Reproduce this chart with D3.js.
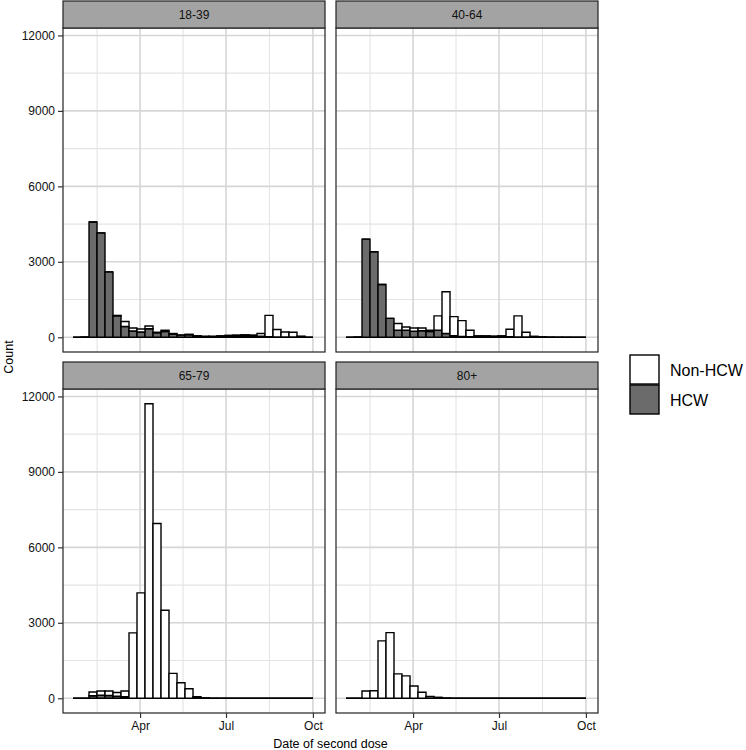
<!DOCTYPE html>
<html><head><meta charset="utf-8">
<script src="https://cdn.jsdelivr.net/npm/d3@7"></script>
<style>body{margin:0;background:#fff}svg{display:block}</style></head>
<body><svg id="c" width="746" height="750"></svg>
<script>
// ---- data ----
const panels = ["18-39", "40-64", "65-79", "80+"];
const groups = ["Non-HCW", "HCW"];
const binStart = "2021-01-20";   // first bin edge
const binDays = 8.47;            // bin width in days (30 bins)
const xTickLabels = ["Apr", "Jul", "Oct"];
const xTickDates = ["2021-04-01", "2021-07-01", "2021-10-01"];
const yTicks = [0, 3000, 6000, 9000, 12000];

const hcw_18_39 = [0, 10, 4580, 4150, 2600, 850, 430, 250, 210, 340, 180, 230, 130, 80, 100, 50, 30, 30, 40, 50, 60, 60, 50, 40, 20, 10, 10, 10, 5, 0];
const non_18_39 = [0, 0, 0, 0, 0, 20, 200, 120, 120, 110, 20, 50, 20, 10, 20, 10, 10, 10, 20, 30, 30, 40, 40, 110, 850, 300, 200, 190, 40, 0];
const hcw_40_64 = [0, 10, 3900, 3400, 2100, 750, 280, 280, 240, 260, 230, 280, 150, 60, 30, 20, 20, 20, 20, 20, 20, 10, 10, 10, 0, 0, 0, 0, 0, 0];
const non_40_64 = [0, 0, 0, 0, 0, 0, 270, 130, 130, 110, 50, 570, 1660, 760, 630, 260, 40, 40, 30, 40, 300, 840, 190, 30, 20, 10, 5, 5, 0, 0];
const hcw_65_79 = [0, 0, 100, 120, 110, 80, 60, 0, 0, 0, 0, 0, 0, 0, 0, 0, 0, 0, 0, 0, 0, 0, 0, 0, 0, 0, 0, 0, 0, 0];
const non_65_79 = [0, 0, 150, 170, 180, 150, 230, 2600, 4190, 11710, 6950, 3500, 990, 620, 380, 60, 20, 5, 0, 0, 0, 0, 0, 0, 0, 0, 0, 0, 0, 0];
const hcw_80 = [0, 0, 0, 0, 0, 0, 0, 0, 0, 0, 0, 0, 0, 0, 0, 0, 0, 0, 0, 0, 0, 0, 0, 0, 0, 0, 0, 0, 0, 0];
const non_80 = [0, 0, 290, 300, 2280, 2610, 970, 890, 490, 240, 70, 40, 15, 5, 0, 0, 0, 0, 0, 0, 0, 0, 0, 0, 0, 0, 0, 0, 0, 0];

const series = {
  "18-39": {"HCW": hcw_18_39, "Non-HCW": non_18_39},
  "40-64": {"HCW": hcw_40_64, "Non-HCW": non_40_64},
  "65-79": {"HCW": hcw_65_79, "Non-HCW": non_65_79},
  "80+":   {"HCW": hcw_80,    "Non-HCW": non_80}
};

// ---- layout ----
const svg = d3.select("#c");
const font = "'Liberation Sans', Arial, sans-serif";
const fills = {"Non-HCW": "#ffffff", "HCW": "#6b6b6b"};
const panelW = 262, panelH = 324, stripH = 27;
const colX = [63, 336];
const rowY = [28, 389];

const parse = d3.utcParse("%Y-%m-%d");
const day = 864e5;
const b0 = parse(binStart);
const nBins = hcw_18_39.length;
const edges = d3.range(nBins + 1).map(i => new Date(+b0 + i * binDays * day));
const xDomain = [new Date(+edges[0] - 10.6 * day), new Date(+edges[nBins] + 12.7 * day)];

let ymax = 0;
panels.forEach(p => {
  for (let i = 0; i < nBins; i++) ymax = Math.max(ymax, series[p]["HCW"][i] + series[p]["Non-HCW"][i]);
});
const yDomain = [-0.05 * ymax, 1.05 * ymax];

const majorX = xTickDates.map(parse);
const minorX = [];
for (let i = 0; i < majorX.length; i++) {
  const prev = i === 0 ? new Date(+majorX[0] - ((+majorX[1]) - (+majorX[0]))) : majorX[i - 1];
  minorX.push(new Date((+prev + (+majorX[i])) / 2));
}
const minorY = d3.range(0, yTicks.length - 1).map(i => (yTicks[i] + yTicks[i + 1]) / 2);

panels.forEach((p, pi) => {
  const col = pi % 2, row = Math.floor(pi / 2);
  const x0 = colX[col], y0 = rowY[row];
  const x = d3.scaleUtc().domain(xDomain).range([x0, x0 + panelW]);
  const y = d3.scaleLinear().domain(yDomain).range([y0 + panelH, y0]);
  const g = svg.append("g");

  g.append("rect").attr("x", x0).attr("y", y0).attr("width", panelW).attr("height", panelH).attr("fill", "#fff");
  // minor grid
  g.selectAll(".mgx").data(minorX.filter(d => d >= xDomain[0] && d <= xDomain[1])).join("line")
    .attr("x1", d => x(d)).attr("x2", d => x(d)).attr("y1", y0).attr("y2", y0 + panelH)
    .attr("stroke", "#e4e4e4").attr("stroke-width", 1.1);
  g.selectAll(".mgy").data(minorY).join("line")
    .attr("y1", d => y(d)).attr("y2", d => y(d)).attr("x1", x0).attr("x2", x0 + panelW)
    .attr("stroke", "#e4e4e4").attr("stroke-width", 1.1);
  // major grid
  g.selectAll(".Mgx").data(majorX).join("line")
    .attr("x1", d => x(d)).attr("x2", d => x(d)).attr("y1", y0).attr("y2", y0 + panelH)
    .attr("stroke", "#d6d6d6").attr("stroke-width", 1.6);
  g.selectAll(".Mgy").data(yTicks).join("line")
    .attr("y1", d => y(d)).attr("y2", d => y(d)).attr("x1", x0).attr("x2", x0 + panelW)
    .attr("stroke", "#d6d6d6").attr("stroke-width", 1.6);

  // bars (HCW at bottom, Non-HCW stacked on top); drawn as paths so zero bins show as baseline
  const rows = d3.range(nBins).map(i => ({i, "HCW": series[p]["HCW"][i], "Non-HCW": series[p]["Non-HCW"][i]}));
  const stack = d3.stack().keys(["HCW", "Non-HCW"])(rows);
  stack.forEach(layer => {
    g.append("g").selectAll("path").data(layer).join("path")
      .attr("d", d => {
        const xa = x(edges[d.data.i]), xb = x(edges[d.data.i + 1]);
        const ya = y(d[0]), yb = y(d[1]);
        return `M${xa},${ya}L${xb},${ya}L${xb},${yb}L${xa},${yb}Z`;
      })
      .attr("fill", fills[layer.key])
      .attr("stroke", "#000").attr("stroke-width", 1.4).attr("stroke-linejoin", "miter");
  });

  // border
  g.append("rect").attr("x", x0).attr("y", y0).attr("width", panelW).attr("height", panelH)
    .attr("fill", "none").attr("stroke", "#222").attr("stroke-width", 1.2);
  // strip
  g.append("rect").attr("x", x0).attr("y", y0 - stripH).attr("width", panelW).attr("height", stripH)
    .attr("fill", "#a3a3a3").attr("stroke", "#222").attr("stroke-width", 1.2);
  g.append("text").attr("x", x0 + panelW / 2).attr("y", y0 - stripH / 2 + 4.5)
    .attr("text-anchor", "middle").attr("font-family", font).attr("font-size", 12)
    .attr("fill", "#111").text(p);

  if (col === 0) {
    const ya = d3.axisLeft(y).tickValues(yTicks).tickSize(5).tickPadding(3).tickFormat(d3.format("d"));
    const ag = g.append("g").attr("transform", `translate(${x0},0)`).call(ya);
    ag.select(".domain").remove();
    ag.selectAll("line").attr("stroke", "#333").attr("stroke-width", 1.2);
    ag.selectAll("text").attr("font-family", font).attr("font-size", 12).attr("fill", "#111");
  }
  if (row === 1) {
    const xa = d3.axisBottom(x).tickValues(majorX).tickSize(5).tickPadding(3)
      .tickFormat((d, i) => xTickLabels[i]);
    const ag = g.append("g").attr("transform", `translate(0,${y0 + panelH})`).call(xa);
    ag.select(".domain").remove();
    ag.selectAll("line").attr("stroke", "#333").attr("stroke-width", 1.2);
    ag.selectAll("text").attr("font-family", font).attr("font-size", 12).attr("fill", "#111");
  }
});

// axis titles
svg.append("text").attr("x", (colX[0] + colX[1] + panelW) / 2).attr("y", 748)
  .attr("text-anchor", "middle").attr("font-family", font).attr("font-size", 12.5).attr("fill", "#000")
  .text("Date of second dose");
svg.append("text").attr("transform", `translate(13,${(rowY[0] - stripH + rowY[1] + panelH) / 2}) rotate(-90)`)
  .attr("text-anchor", "middle").attr("font-family", font).attr("font-size", 12.5).attr("fill", "#000")
  .text("Count");

// legend
const lg = svg.append("g");
groups.forEach((k, i) => {
  const ky = 355 + i * 30;
  lg.append("rect").attr("x", 630).attr("y", ky).attr("width", 29).attr("height", 29)
    .attr("fill", fills[k]).attr("stroke", "#000").attr("stroke-width", 1.4);
  lg.append("text").attr("x", 670).attr("y", ky + 20.5).attr("font-family", font).attr("font-size", 16)
    .attr("fill", "#000").text(k);
});
</script>
</body></html>
